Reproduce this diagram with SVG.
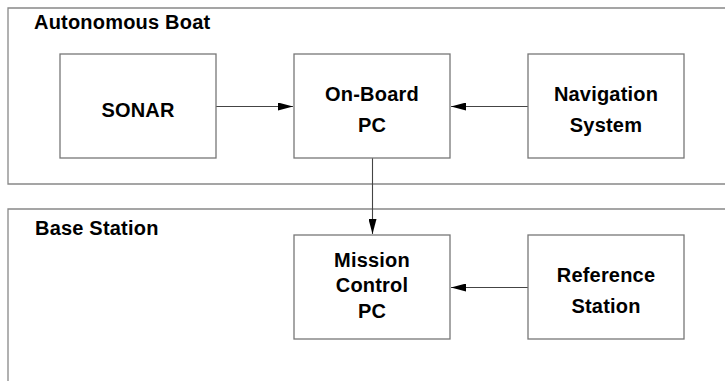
<svg xmlns="http://www.w3.org/2000/svg" width="725" height="381" viewBox="0 0 725 381">
  <style>
    .zone { fill: none; stroke: #888; stroke-width: 1.3; }
    .box { fill: #fff; stroke: #777; stroke-width: 1.3; }
    .lbl { font-family: "Liberation Sans", Arial, sans-serif; font-weight: bold; font-size: 20px; letter-spacing: 0.2px; fill: #000; }
    .mid { text-anchor: middle; }
    .wire { fill: none; stroke: #444; stroke-width: 1.1; }
  </style>
  <defs>
    <marker id="head" markerUnits="userSpaceOnUse" markerWidth="15" markerHeight="8" refX="15" refY="4" orient="auto">
      <path d="M0,0 L15,4 L0,8 Z" fill="#000"/>
    </marker>
  </defs>
  <rect width="725" height="381" fill="#fff"/>

  <!-- zones -->
  <g id="zone-boat">
    <path class="zone" d="M726,8 H8 V184 H726"/>
    <text class="lbl" x="34" y="28.5">Autonomous Boat</text>
  </g>
  <g id="zone-base">
    <path class="zone" d="M726,209 H8 V382"/>
    <text class="lbl" x="35" y="235">Base Station</text>
  </g>

  <!-- connectors -->
  <g id="connectors">
    <line class="wire" x1="216" y1="106.5" x2="293" y2="106.5" marker-end="url(#head)"/>
    <line class="wire" x1="528" y1="106.5" x2="451" y2="106.5" marker-end="url(#head)"/>
    <line class="wire" x1="372.5" y1="158" x2="372.5" y2="234" marker-end="url(#head)"/>
    <line class="wire" x1="528" y1="287.5" x2="451" y2="287.5" marker-end="url(#head)"/>
  </g>

  <!-- nodes -->
  <g id="sonar">
    <rect class="box" x="60" y="54" width="156" height="104"/>
    <text class="lbl mid" x="138" y="116.5">SONAR</text>
  </g>
  <g id="onboard-pc">
    <rect class="box" x="294" y="54" width="156" height="104"/>
    <text class="lbl mid" x="372" y="101">On-Board</text>
    <text class="lbl mid" x="372" y="131.5">PC</text>
  </g>
  <g id="navigation">
    <rect class="box" x="528" y="54" width="156" height="104"/>
    <text class="lbl mid" x="606" y="101">Navigation</text>
    <text class="lbl mid" x="606" y="131.5">System</text>
  </g>
  <g id="mission-control">
    <rect class="box" x="294" y="235" width="156" height="104"/>
    <text class="lbl mid" x="372" y="266.5">Mission</text>
    <text class="lbl mid" x="372" y="292">Control</text>
    <text class="lbl mid" x="372" y="317.5">PC</text>
  </g>
  <g id="reference-station">
    <rect class="box" x="528" y="235" width="156" height="104"/>
    <text class="lbl mid" x="606" y="282">Reference</text>
    <text class="lbl mid" x="606" y="312.5">Station</text>
  </g>
</svg>
